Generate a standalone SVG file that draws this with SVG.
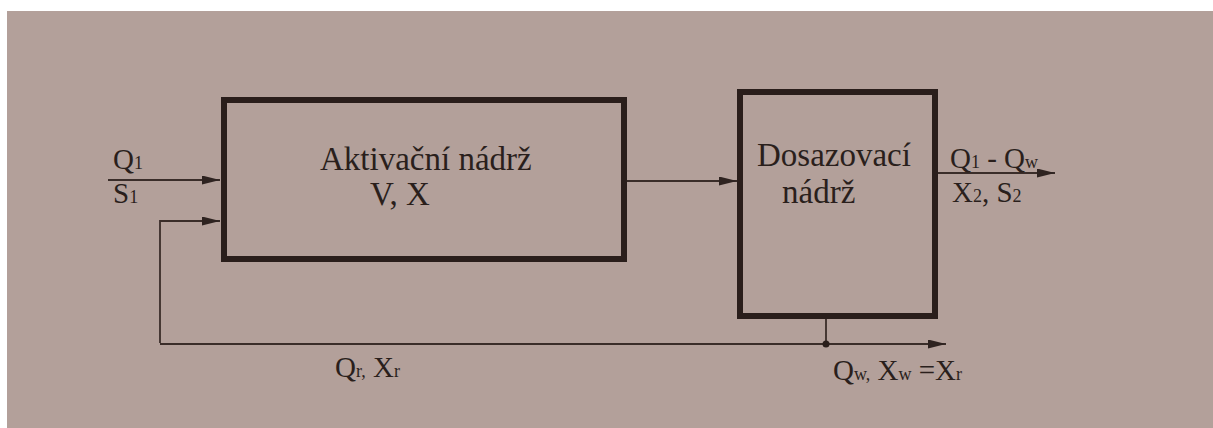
<svg xmlns="http://www.w3.org/2000/svg" width="1213" height="428" viewBox="0 0 1213 428">
<defs>
<marker id="ah" viewBox="0 0 20 10" refX="20" refY="5" markerWidth="20" markerHeight="9" markerUnits="userSpaceOnUse" orient="auto">
<path d="M0,0 L20,5 L0,10 Z" fill="#2e2320"/>
</marker>
</defs>
<style>
.bg{fill:#b3a09a}
.box{fill:none;stroke:#2a1e1b;stroke-width:6}
.ln{fill:none;stroke:#3a2d29;stroke-width:1.8}
.t{font-family:"Liberation Serif",serif;fill:#2a1f1c}
.lab{font-size:29px}
.big{font-size:33px}
.sub{font-size:18px}
</style>
<rect x="0" y="0" width="1213" height="428" fill="#ffffff"/>
<rect class="bg" x="7" y="11" width="1206" height="417"/>
<g id="connectors">
<line class="ln" x1="108" y1="180" x2="220" y2="180" marker-end="url(#ah)"/>
<polyline class="ln" points="160,343 160,221 220,221" marker-end="url(#ah)"/>
<line class="ln" x1="627" y1="181" x2="737" y2="181" marker-end="url(#ah)"/>
<line class="ln" x1="938" y1="173" x2="1055" y2="173" marker-end="url(#ah)"/>
<line class="ln" x1="826" y1="318" x2="826" y2="344"/>
<line class="ln" x1="160" y1="344" x2="946" y2="344" marker-end="url(#ah)"/>
<circle cx="826" cy="344" r="3.5" fill="#2a1e1b"/>
</g>
<g id="aktivacni">
<rect class="box" x="224" y="100" width="400" height="159"/>
<text class="t big" x="320" y="170">Aktivační nádrž</text>
<text class="t big" x="370" y="205">V, X</text>
</g>
<g id="dosazovaci">
<rect class="box" x="740" y="92" width="195" height="224"/>
<text class="t big" x="757" y="166">Dosazovací</text>
<text class="t big" x="782" y="203">nádrž</text>
</g>
<g id="labels">
<text class="t lab" x="113" y="169">Q<tspan class="sub">1</tspan></text>
<text class="t lab" x="113" y="203">S<tspan class="sub">1</tspan></text>
<text class="t lab" x="950" y="168">Q<tspan class="sub">1</tspan><tspan> - Q</tspan><tspan class="sub">w</tspan></text>
<text class="t lab" x="952" y="202">X<tspan class="sub">2</tspan><tspan>, S</tspan><tspan class="sub">2</tspan></text>
<text class="t lab" x="335" y="377">Q<tspan class="sub">r,</tspan><tspan>  X</tspan><tspan class="sub">r</tspan></text>
<text class="t lab" x="833" y="380">Q<tspan class="sub">w,</tspan><tspan> X</tspan><tspan class="sub">w</tspan><tspan>  =X</tspan><tspan class="sub">r</tspan></text>
</g>
</svg>
